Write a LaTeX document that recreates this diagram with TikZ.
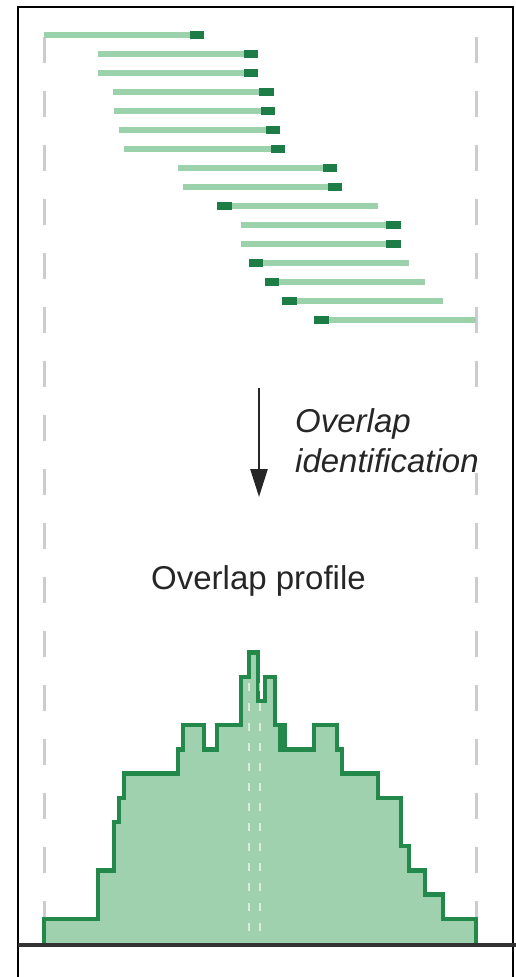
\documentclass[tikz,border=0pt]{standalone}
\usepackage{fontspec}
\setmainfont{Liberation Sans}
\usepackage{tikz}
\usetikzlibrary{arrows.meta}
\definecolor{readlight}{RGB}{155, 210, 172}
\definecolor{readdark}{RGB}{30, 125, 70}
\definecolor{profedge}{RGB}{35, 137, 74}
\definecolor{proffill}{RGB}{160, 209, 174}
\definecolor{guidegray}{RGB}{204, 204, 204}

\tikzset{
  guide/.style={guidegray, line width=3pt, dash pattern=on 26pt off 28pt},
  readbar/.style={readlight, line width=6pt},
  readend/.style={readdark, line width=7.5pt},
  profile/.style={draw=profedge, fill=proffill, line width=4.5pt},
  label/.style={inner sep=0pt, font=\fontsize{33}{40}\selectfont}
}

\begin{document}
\begin{tikzpicture}[x=1pt, y=-1pt]

  \useasboundingbox (0,0) rectangle (516,977);

  % frame
  \draw[line width=2.5pt] (18,990) -- (18,7) -- (513,7) -- (513,990);

  \foreach \x in {44, 476} {
    \draw[guide] (\x,37) -- (\x,945);
  }

  % reads with their ends
  \foreach \a/\b/\y/\c/\d in {44/204/35/190/204, 98/258/54/244/258,
      98/258/73/244/258, 113/274/92/259/274, 114/275/111/261/275,
      119/280/130/266/280, 124/285/149/271/285, 178/337/168/323/337,
      183/342/187/328/342, 217/378/206/217/232, 241/401/225/386/401,
      241/401/244/386/401, 249/409/263/249/263, 265/425/282/265/279,
      282/443/301/282/297, 314/476/320/314/329} {
    \draw[readbar] (\a,\y) -- (\b,\y);
    \draw[readend] (\c,\y) -- (\d,\y);
  }

  \coordinate (arrowtop) at (259,388);
  \coordinate (arrowtip) at (259,497);
  \draw[line width=2.5pt, -{Triangle[length=28pt, width=17pt]}, black!85]
    (arrowtop) -- (arrowtip);

  \node[label, font=\fontsize{33}{40}\selectfont\itshape, fill=white,
        anchor=north west, align=left, text=black!85]
    (ident) at (295,408.5) {Overlap\\identification};

  \node[label, anchor=base, text=black!85] (proftitle) at (258.5,589)
    {Overlap profile};

  % coverage profile
  \begin{scope}[shift={(0pt,-943pt)}, y=24.2pt]
    \path[profile] (44,0) |- (98,1) |- (114,3) |- (119,5) |- (124,6)
      |- (178,7) |- (183,8) |- (204,9) |- (217,8) |- (241,9) |- (249,11)
      |- (258,12) |- (265,10) |- (275,11) |- (280,9) |- (282,8) |- (285,9)
      |- (314,8) |- (337,9) |- (342,8) |- (378,7) |- (401,6) |- (409,4)
      |- (425,3) |- (443,2) |- (476,1) -- (476,0);
  \end{scope}

  \foreach \x in {249, 260} {
    \draw[white, opacity=0.6, line width=2pt, dash pattern=on 8pt off 12pt]
      (\x,683) -- (\x,940);
  }

  \draw[line width=3.5pt, black!80] (18,945) -- (516,945);

\end{tikzpicture}
\end{document}
